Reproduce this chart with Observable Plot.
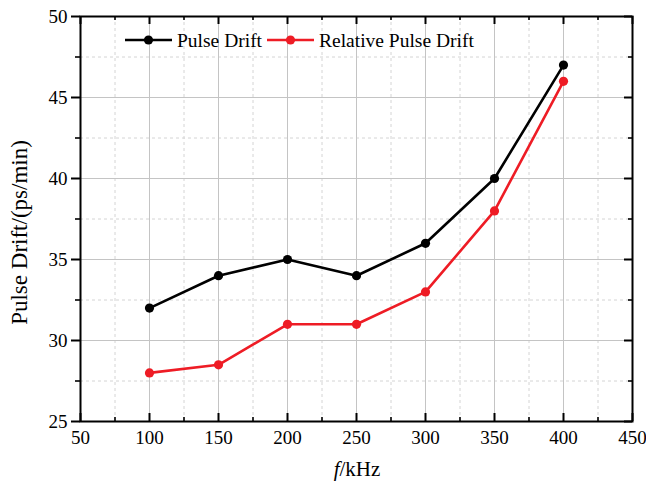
<!DOCTYPE html>
<html><head><meta charset="utf-8">
<script src="https://cdn.jsdelivr.net/npm/d3@7"></script>
<script src="https://cdn.jsdelivr.net/npm/@observablehq/plot@0.6"></script>
<style>body{margin:0;background:#fff}</style>
</head><body><div id="chart"></div>
<script>
const freq = [100, 150, 200, 250, 300, 350, 400];
const pulseDrift = [32, 34, 35, 34, 36, 40, 47];
const relativePulseDrift = [28, 28.5, 31, 31, 33, 38, 46];
const seriesNames = ["Pulse Drift", "Relative Pulse Drift"];
const seriesColors = ["#000000", "#ee1c25"];
const xTicks = [50, 100, 150, 200, 250, 300, 350, 400, 450];
const xMinor = [75, 125, 175, 225, 275, 325, 375, 425];
const yTicks = [25, 30, 35, 40, 45, 50];
const yMinor = [27.5, 32.5, 37.5, 42.5, 47.5];
const xLabel = "kHz";
const yLabel = "Pulse Drift/(ps/min)";

const W = 646, H = 482, ML = 80, MR = 14, MT = 16, MB = 61;
const PW = W - ML - MR, PH = H - MT - MB;

const data = [];
freq.forEach((f, i) => {
  data.push({f, v: pulseDrift[i], s: seriesNames[0]});
  data.push({f, v: relativePulseDrift[i], s: seriesNames[1]});
});

const svg = Plot.plot({
  width: W, height: H,
  marginLeft: ML, marginRight: MR, marginTop: MT, marginBottom: MB,
  style: {fontFamily: "'Liberation Serif', 'Times New Roman', serif", fontSize: "19px", color: "#000", background: "#fff", overflow: "visible"},
  x: {domain: [50, 450]},
  y: {domain: [25, 50]},
  color: {domain: seriesNames, range: seriesColors},
  marks: [
    Plot.ruleX(xMinor, {x: d => d, stroke: "#d4d4d4", strokeWidth: 1, strokeDasharray: "3,3"}),
    Plot.ruleY(yMinor, {y: d => d, stroke: "#d4d4d4", strokeWidth: 1, strokeDasharray: "3,3"}),
    Plot.ruleX(xTicks.slice(1, -1), {x: d => d, stroke: "#c4c4c4", strokeWidth: 1}),
    Plot.ruleY(yTicks.slice(1, -1), {y: d => d, stroke: "#c4c4c4", strokeWidth: 1}),
    Plot.line(data, {x: "f", y: "v", z: "s", stroke: "s", strokeWidth: 2.6}),
    Plot.dot(data, {x: "f", y: "v", fill: "s", r: 4.6}),
    // inward ticks: bottom, top, right
    Plot.tickX(xTicks, {x: d => d, insetTop: PH - 8, stroke: "#000", strokeWidth: 2}),
    Plot.tickX(xMinor, {x: d => d, insetTop: PH - 4, stroke: "#000", strokeWidth: 1.6}),
    Plot.tickX(xTicks, {x: d => d, insetBottom: PH - 8, stroke: "#000", strokeWidth: 2}),
    Plot.tickX(xMinor, {x: d => d, insetBottom: PH - 4, stroke: "#000", strokeWidth: 1.6}),
    Plot.tickY(yTicks, {y: d => d, insetLeft: PW - 8, stroke: "#000", strokeWidth: 2}),
    Plot.tickY(yMinor, {y: d => d, insetLeft: PW - 4, stroke: "#000", strokeWidth: 1.6}),
    // outward left ticks
    Plot.tickY(yMinor, {y: d => d, insetLeft: -5, insetRight: PW, stroke: "#000", strokeWidth: 1.6}),
    Plot.axisY(yTicks, {tickSize: 9, tickPadding: 4, strokeWidth: 2, label: null}),
    Plot.axisX(xTicks, {tickSize: 0, tickPadding: 9, label: null}),
    Plot.frame({stroke: "#000", strokeWidth: 2})
  ]
});

const s = d3.select(svg);
// axis labels
s.append("text")
  .attr("transform", `translate(27,${MT + PH / 2 + 14}) rotate(-90)`)
  .attr("text-anchor", "middle")
  .attr("font-size", 23)
  .attr("fill", "#000")
  .text(yLabel);
const xl = s.append("text")
  .attr("x", ML + PW / 2 + 1).attr("y", 476)
  .attr("text-anchor", "middle")
  .attr("font-size", 21)
  .attr("fill", "#000");
xl.append("tspan").attr("font-style", "italic").text("f");
xl.append("tspan").text("/" + xLabel);

// legend
const legendItems = [
  {x: 125, name: seriesNames[0], color: seriesColors[0]},
  {x: 267, name: seriesNames[1], color: seriesColors[1]}
];
const lg = s.append("g").attr("text-anchor", "start");
legendItems.forEach(it => {
  const g = lg.append("g").attr("transform", `translate(${it.x},40)`);
  g.append("line").attr("x1", 0).attr("x2", 47).attr("y1", 0).attr("y2", 0)
    .attr("stroke", it.color).attr("stroke-width", 2.6);
  g.append("circle").attr("cx", 23.5).attr("cy", 0).attr("r", 4.6).attr("fill", it.color);
  g.append("text").attr("x", 52).attr("y", 6.5).attr("font-size", 19.5)
    .attr("text-anchor", "start").attr("fill", "#000").text(it.name);
});

document.getElementById("chart").appendChild(svg);
</script>
</body></html>
